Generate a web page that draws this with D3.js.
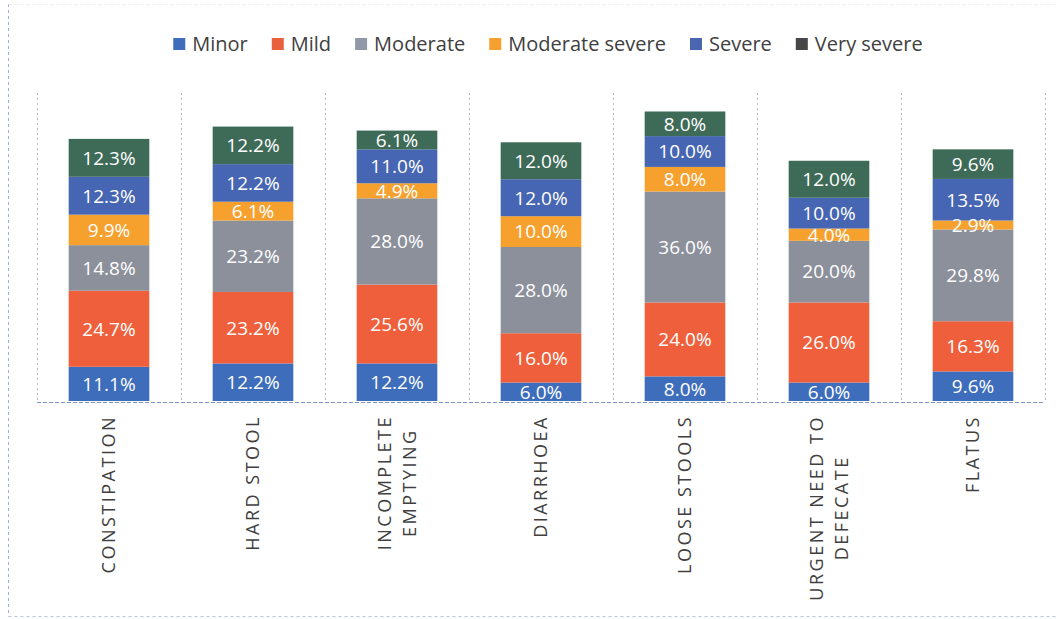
<!DOCTYPE html>
<html>
<head>
<meta charset="utf-8">
<script src="https://cdn.jsdelivr.net/npm/d3@7"></script>
<style>
  html, body { margin: 0; padding: 0; background: #fff; }
  svg { display: block; }
</style>
</head>
<body>
<svg id="chart" width="1064" height="619"></svg>
<script>
// Symptom categories and their axis labels (line breaks as shown on the axis)
const categories = ["Constipation", "Hard stool", "Incomplete emptying", "Diarrhoea",
                    "Loose stools", "Urgent need to defecate", "Flatus"];
const tickLabels = [["CONSTIPATION"], ["HARD STOOL"], ["INCOMPLETE", "EMPTYING"], ["DIARRHOEA"],
                    ["LOOSE STOOLS"], ["URGENT NEED TO", "DEFECATE"], ["FLATUS"]];

// Severity series, bottom to top of each stack (percent of respondents)
const seriesNames = ["Minor", "Mild", "Moderate", "Moderate severe", "Severe", "Very severe"];
const minor          = [11.1, 12.2, 12.2,  6.0,  8.0,  6.0,  9.6];
const mild           = [24.7, 23.2, 25.6, 16.0, 24.0, 26.0, 16.3];
const moderate       = [14.8, 23.2, 28.0, 28.0, 36.0, 20.0, 29.8];
const moderateSevere = [ 9.9,  6.1,  4.9, 10.0,  8.0,  4.0,  2.9];
const severe         = [12.3, 12.2, 11.0, 12.0, 10.0, 10.0, 13.5];
const verySevere     = [12.3, 12.2,  6.1, 12.0,  8.0, 12.0,  9.6];

const seriesValues = [minor, mild, moderate, moderateSevere, severe, verySevere];
const barColors    = ["#3d6dbb", "#ef5f3c", "#8c909b", "#f6a02e", "#4665b2", "#3e6a58"];
const legendColors = ["#3d6dbb", "#e9603d", "#9199a9", "#f5a030", "#4a66b0", "#474747"];

// Build rows for d3.stack
const rows = categories.map((c, i) => {
  const r = { category: c };
  seriesNames.forEach((s, k) => { r[s] = seriesValues[k][i]; });
  return r;
});
const stacked = d3.stack().keys(seriesNames)(rows);

const svg = d3.select("#chart");

// Chart-area frame
const frame = svg.append("g").attr("fill", "none").attr("stroke", "#9fb2d8")
  .attr("stroke-width", 1).attr("stroke-dasharray", "3,3");
frame.append("line").attr("x1", 8.5).attr("x2", 8.5).attr("y1", 4).attr("y2", 616.5);
frame.append("line").attr("x1", 8.5).attr("x2", 1058).attr("y1", 616.5).attr("y2", 616.5)
  .attr("stroke", "#b8c4de");
frame.append("line").attr("x1", 8.5).attr("x2", 1058).attr("y1", 4.5).attr("y2", 4.5)
  .attr("stroke", "#e4e8f0");

// Scales
const x = d3.scaleBand().domain(categories).range([37, 1045])
  .paddingInner(0.44).paddingOuter(0.22);
const y = d3.scaleLinear().domain([0, 100]).range([401, 93]);

// Vertical separators between categories
const step = x.step();
const bounds = d3.range(categories.length + 1).map(i => x.range()[0] + i * step);
svg.append("g").selectAll("line").data(bounds).join("line")
  .attr("x1", d => Math.round(d) + 0.5).attr("x2", d => Math.round(d) + 0.5)
  .attr("y1", y(100)).attr("y2", y(0))
  .attr("stroke", "#aeb6c4").attr("stroke-width", 1).attr("stroke-dasharray", "2,3");

// Stacked bars
const layer = svg.append("g").selectAll("g").data(stacked).join("g")
  .attr("fill", (d, k) => barColors[k]);
layer.selectAll("rect").data(d => d).join("rect")
  .attr("x", d => x(d.data.category))
  .attr("width", x.bandwidth())
  .attr("y", d => y(d[1]))
  .attr("height", d => y(d[0]) - y(d[1]));

// Baseline
svg.append("line")
  .attr("x1", x.range()[0]).attr("x2", x.range()[1])
  .attr("y1", y(0) + 1.5).attr("y2", y(0) + 1.5)
  .attr("stroke", "#7f93c4").attr("stroke-width", 1).attr("stroke-dasharray", "4,2");

// Value labels inside segments
const labels = svg.append("g")
  .attr("font-family", "'Open Sans', 'Noto Sans', sans-serif")
  .attr("font-size", 19).attr("fill", "#ffffff").attr("text-anchor", "middle");
stacked.forEach(s => {
  labels.selectAll(null).data(s).join("text")
    .attr("x", d => x(d.data.category) + x.bandwidth() / 2)
    .attr("y", d => (y(d[0]) + y(d[1])) / 2)
    .attr("dy", "0.36em")
    .text(d => (d[1] - d[0]).toFixed(1) + "%");
});

// Category axis labels, rotated, lines centred on each other
const axisG = svg.append("g")
  .attr("font-family", "'Open Sans', 'Noto Sans', sans-serif")
  .attr("font-size", 18).attr("fill", "#404040").attr("letter-spacing", "2.5px");
const lineGap = 25;
categories.forEach((c, i) => {
  const lines = tickLabels[i];
  const g = axisG.append("g")
    .attr("transform", `translate(${x(c) + x.bandwidth() / 2},415) rotate(-90)`);
  const texts = lines.map((t, j) => g.append("text")
    .attr("y", (j - (lines.length - 1) / 2) * lineGap)
    .attr("dy", "0.36em")
    .text(t));
  const widths = texts.map(t => t.node().getComputedTextLength());
  const wMax = d3.max(widths);
  texts.forEach(t => t.attr("x", -wMax / 2).attr("text-anchor", "middle"));
});

// Legend
const legend = svg.append("g")
  .attr("font-family", "'Open Sans', 'Noto Sans', sans-serif")
  .attr("font-size", 20).attr("fill", "#404040");
const sw = 12, swGap = 7, itemGap = 24;
let cursor = 0;
seriesNames.forEach((name, k) => {
  const g = legend.append("g");
  g.append("rect").attr("width", sw).attr("height", sw).attr("y", -sw / 2)
    .attr("fill", legendColors[k]);
  const t = g.append("text").attr("x", sw + swGap).attr("dy", "0.35em").text(name);
  const w = sw + swGap + t.node().getComputedTextLength();
  g.attr("transform", `translate(${cursor},0)`);
  cursor += w + itemGap;
});
const legendWidth = cursor - itemGap;
legend.attr("transform", `translate(${548 - legendWidth / 2},44)`);
</script>
</body>
</html>
